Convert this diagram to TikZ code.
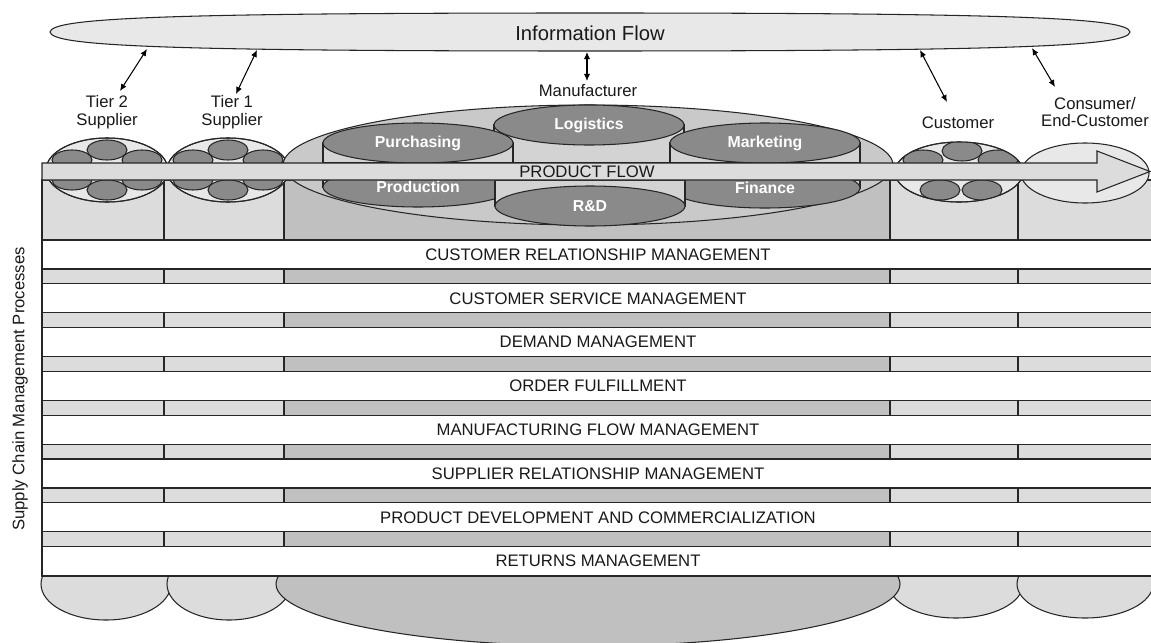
\documentclass[tikz,border=0pt]{standalone}
\usepackage{fontspec}
\setmainfont{Liberation Sans}
\usetikzlibrary{arrows.meta, positioning, shapes.geometric}
\usepackage{xcolor}

\definecolor{paleGrey}{HTML}{E8E8E8}
\definecolor{bandGrey}{HTML}{DCDCDC}
\definecolor{mfrGrey}{HTML}{C0C0C0}
\definecolor{mfrBody}{HTML}{C9C9C9}
\definecolor{cylSide}{HTML}{D3D3D3}
\definecolor{deptGrey}{HTML}{8A8A8A}

\begin{document}
\begin{tikzpicture}[
        x=0.02cm, y=-0.02cm,
        outline/.style={draw=black!85, line width=0.6pt},
        lanebox/.style={outline, fill=white},
        lanetext/.style={font=\fontsize{9.5}{11}\selectfont, text=black!90, inner sep=0pt},
        partytext/.style={font=\fontsize{9.5}{10}\selectfont, text=black!90, align=center, inner sep=0pt},
        dept/.style={font=\fontsize{9}{10}\selectfont\bfseries, text=white, inner sep=0pt},
        member/.style={outline, fill=deptGrey},
        infoarrow/.style={{Latex[length=4pt,width=3.5pt]}-{Latex[length=4pt,width=3.5pt]}, line width=0.6pt}
    ]
    \useasboundingbox (0,0) rectangle (1151,642);
    \clip (0,0) rectangle (1151,642);
    \fill[white] (0,0) rectangle (1151,642);

    % bottom lobes of the columns
    \foreach \cx/\rx/\ry/\shade in {106/65/36/bandGrey, 229/62/36/bandGrey, 956/67/34/bandGrey, 1085/68/34/bandGrey, 588/312/62/mfrGrey}
        \draw[outline, fill=\shade] (\cx,584) ellipse [x radius=\rx, y radius=\ry];

    % columns
    \foreach \xa/\xb/\shade in {42/164/bandGrey, 164/284/bandGrey, 284/890/mfrGrey, 890/1018/bandGrey, 1018/1170/bandGrey}
        \draw[outline, fill=\shade] (\xa,180) rectangle (\xb,576);

    % process lanes
    \foreach \name [count=\i from 0] in {CUSTOMER RELATIONSHIP MANAGEMENT, CUSTOMER SERVICE MANAGEMENT,
            DEMAND MANAGEMENT, ORDER FULFILLMENT, MANUFACTURING FLOW MANAGEMENT,
            SUPPLIER RELATIONSHIP MANAGEMENT, PRODUCT DEVELOPMENT AND COMMERCIALIZATION, RETURNS MANAGEMENT} {
        \draw[lanebox] (42,240+43.8*\i) rectangle (1170,269+43.8*\i);
        \node[lanetext] (lane\i) at (598,254.5+43.8*\i) {\name};
    }

    % supplier clouds
    \foreach \cx in {107, 228} {
        \draw[outline, fill=paleGrey] (\cx,170) ellipse [x radius=61, y radius=32];
        \begin{scope}
            \clip (\cx,170) ellipse [x radius=61, y radius=32];
            \foreach \dx/\dy in {0/-20, -35/-10, 35/-10, -35/10, 35/10, 0/20}
                \draw[member] (\cx+\dx,170+\dy) ellipse [x radius=20, y radius=10];
        \end{scope}
        \draw[outline] (\cx,170) ellipse [x radius=61, y radius=32];
    }

    % customer and consumer clouds
    \draw[outline, fill=paleGrey] (1085,173) ellipse [x radius=64, y radius=30];
    \draw[outline, fill=paleGrey] (959,172) ellipse [x radius=64, y radius=30];
    \begin{scope}
        \clip (959,172) ellipse [x radius=64, y radius=30];
        \foreach \px/\py in {962/151, 923/160, 998/160, 940/190, 982/190}
            \draw[member] (\px,\py) ellipse [x radius=20, y radius=10];
    \end{scope}
    \draw[outline] (959,172) ellipse [x radius=64, y radius=30];

    % manufacturer with its functions
    \draw[outline, fill=mfrBody] (588,165) ellipse [x radius=305, y radius=60];
    \foreach \id/\name/\cx/\cy/\edge in {logi/Logistics/589/125/163, purch/Purchasing/418/143/163,
            mkt/Marketing/765/143/163, prod/Production/418/187/180, fin/Finance/765/188/180, rnd/R\&D/590/206/180} {
        \draw[outline, fill=cylSide] (\cx-95,\cy) rectangle (\cx+95,\edge);
        \draw[outline, fill=deptGrey] (\cx,\cy) ellipse [x radius=95, y radius=20];
        \node[dept] (\id) at (\cx,\cy) {\name};
    }

    % product flow arrow
    \draw[outline, fill=bandGrey] (42,163) -- (1097,163) -- (1097,151) -- (1150,171.5)
        -- (1097,192) -- (1097,180) -- (42,180) -- cycle;
    \node[lanetext] (flow) at (587,171.5) {PRODUCT FLOW};

    % information flow
    \draw[outline, fill=paleGrey] (50,32) .. controls (52,18) and (160,13) .. (590,13)
        .. controls (1020,13) and (1128,18) .. (1130,32)
        .. controls (1128,46) and (1020,51) .. (590,51)
        .. controls (160,51) and (52,46) .. (50,32) -- cycle;
    \node[font=\fontsize{11.5}{12}\selectfont, text=black!90, inner sep=0pt] (info) at (590,33) {Information Flow};

    % members of the chain
    \node[partytext] (tier2) at (107,112) {Tier 2\\Supplier};
    \node[partytext] (tier1) at (232,112) {Tier 1\\Supplier};
    \node[partytext] (mfr) at (588,91) {Manufacturer};
    \node[partytext] (cust) at (958,123) {Customer};
    \node[partytext] (cons) at (1095,112) {Consumer/\\End-Customer};
    \node[partytext, rotate=90] (scmp) at (20,389) {Supply Chain Management Processes};

    \foreach \id/\xa/\ya/\xb/\yb in {t2/147/49/120/91, t1/257/50/236/94, mf/587/52/587/81,
            cu/920/50/947/102, co/1032/48/1055/87} {
        \coordinate (\id-up) at (\xa,\ya);
        \coordinate (\id-dn) at (\xb,\yb);
        \draw[infoarrow] (\id-up) -- (\id-dn);
    }

\end{tikzpicture}
\end{document}
